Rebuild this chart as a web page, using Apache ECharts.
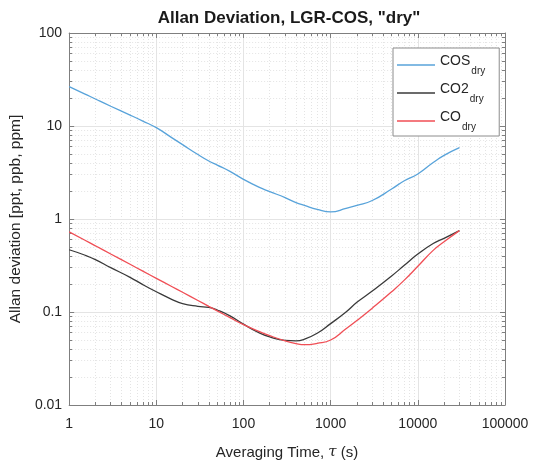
<!DOCTYPE html>
<html>
<head>
<meta charset="utf-8">
<script src="https://cdn.jsdelivr.net/npm/echarts@6/dist/echarts.min.js"></script>
<style>html,body{margin:0;padding:0;background:#fff}#c{width:534px;height:465px}</style>
</head>
<body>
<div id="c"></div>
<script>
const tau = [1, 1.5, 2, 3, 5, 7, 10, 15, 20, 30, 40, 50, 70, 100, 150, 200, 300, 400, 500, 700, 1000, 1500, 2000, 3000, 5000, 7000, 10000, 15000, 20000, 30000];
const cosDry = [26.5, 22.2, 19.5, 16.3, 13.1, 11.3, 9.6, 7.5, 6.3, 4.93, 4.2, 3.8, 3.25, 2.67, 2.2, 1.97, 1.7, 1.5, 1.4, 1.27, 1.19, 1.3, 1.4, 1.58, 2.1, 2.58, 3.05, 4.05, 4.83, 5.85];
const co2Dry = [0.467, 0.41, 0.366, 0.3, 0.236, 0.197, 0.165, 0.137, 0.123, 0.115, 0.112, 0.105, 0.091, 0.074, 0.06, 0.054, 0.0495, 0.049, 0.051, 0.059, 0.075, 0.1, 0.127, 0.168, 0.244, 0.318, 0.42, 0.545, 0.62, 0.75];
const coDry = [0.728, 0.594, 0.515, 0.42, 0.326, 0.275, 0.23, 0.188, 0.163, 0.133, 0.115, 0.103, 0.087, 0.073, 0.062, 0.0557, 0.049, 0.0458, 0.0445, 0.046, 0.05, 0.066, 0.081, 0.11, 0.165, 0.22, 0.31, 0.46, 0.57, 0.75];
const seriesNames = ['COS', 'CO2', 'CO'];
const seriesColors = ['#58a3da', '#3a3a3a', '#f04e55'];
const xTicks = [1, 10, 100, 1000, 10000, 100000];
const yTicks = [0.01, 0.1, 1, 10, 100];

const FONT = '"Liberation Sans", Arial, Helvetica, sans-serif';
const axisCol = '#7f7f7f';
const txtCol = '#262626';
const gridCol = '#e4e4e4';

function pairs(vals) { return tau.map((t, i) => [t, vals[i]]); }
function fmt(v) { return String(+v.toPrecision(6)); }

function logAxis(extra) {
  return Object.assign({
    type: 'log', logBase: 10,
    axisLine: { show: true, lineStyle: { color: axisCol, width: 1 } },
    axisTick: { show: true, inside: true, length: 5, lineStyle: { color: axisCol } },
    minorTick: { show: true, splitNumber: 9, length: 3, lineStyle: { color: axisCol } },
    splitLine: { show: false },
    minorSplitLine: { show: false },
    axisLabel: { show: false }
  }, extra);
}

const chart = echarts.init(document.getElementById('c'), null, { renderer: 'canvas' });
chart.setOption({
  animation: false,
  backgroundColor: '#fff',
  textStyle: { fontFamily: FONT },
  title: {
    text: 'Allan Deviation, LGR-COS, "dry"',
    left: 284, top: 5, textAlign: 'center',
    textStyle: { fontFamily: FONT, fontSize: 17, fontWeight: 'bold', color: '#1a1a1a' }
  },
  grid: { left: 68, right: 29, top: 33, bottom: 54, containLabel: false },
  legend: {
    orient: 'vertical', left: 393, top: 48,
    padding: [6, 14, 4, 4], itemGap: 6,
    backgroundColor: '#fff', borderColor: '#8c8c8c', borderWidth: 1,
    itemWidth: 38, itemHeight: 14,
    icon: 'path://M0,6.2 L38,6.2 L38,7.8 L0,7.8 Z',
    data: seriesNames,
    formatter: function (n) { return '{m|' + n + '}{s|dry}'; },
    textStyle: {
      fontFamily: FONT, color: txtCol,
      rich: {
        m: { fontSize: 14, color: txtCol, fontFamily: FONT, padding: [0, 0, 8, 0] },
        s: { fontSize: 10, color: txtCol, fontFamily: FONT, padding: [12, 0, 0, 1] }
      }
    }
  },
  xAxis: [
    logAxis({
      position: 'bottom', min: 1, max: 100000, interval: 1,
      splitLine: { show: true, lineStyle: { color: gridCol, width: 1 } },
      minorSplitLine: { show: true, lineStyle: { color: gridCol, type: [1, 2], width: 1 } },
      axisLabel: { show: true, color: txtCol, fontSize: 14, fontFamily: FONT, margin: 12,
        formatter: v => fmt(v),
        customValues: xTicks },
      name: '{n|Averaging Time, }{i|τ}{n| (s)}',
      nameLocation: 'middle', nameGap: 40,
      nameTextStyle: { rich: {
        n: { fontSize: 15, color: txtCol, fontFamily: FONT },
        i: { fontSize: 15, color: txtCol, fontFamily: '"DejaVu Serif", serif', fontStyle: 'italic' }
      } }
    }),
    logAxis({ position: 'top', min: 1, max: 100000, interval: 1 })
  ],
  yAxis: [
    logAxis({
      position: 'left', min: 0.01, max: 100, interval: 1,
      splitLine: { show: true, lineStyle: { color: gridCol, width: 1 } },
      minorSplitLine: { show: true, lineStyle: { color: gridCol, type: [1, 2], width: 1 } },
      axisLabel: { show: true, color: txtCol, fontSize: 14, fontFamily: FONT, margin: 7,
        formatter: v => fmt(v),
        customValues: yTicks },
      name: 'Allan deviation [ppt, ppb, ppm]',
      nameLocation: 'middle', nameGap: 41, nameRotate: 90,
      nameTextStyle: { fontSize: 15.5, color: txtCol, fontFamily: FONT }
    }),
    logAxis({ position: 'right', min: 0.01, max: 100, interval: 1 })
  ],
  series: [
    { name: 'COS', type: 'line', data: pairs(cosDry) },
    { name: 'CO2', type: 'line', data: pairs(co2Dry) },
    { name: 'CO', type: 'line', data: pairs(coDry) }
  ].map((s, i) => Object.assign(s, {
    xAxisIndex: 0, yAxisIndex: 0, smooth: 0.5, symbol: 'none', showSymbol: false,
    color: seriesColors[i],
    lineStyle: { color: seriesColors[i], width: 1.3 }
  }))
});
</script>
</body>
</html>
